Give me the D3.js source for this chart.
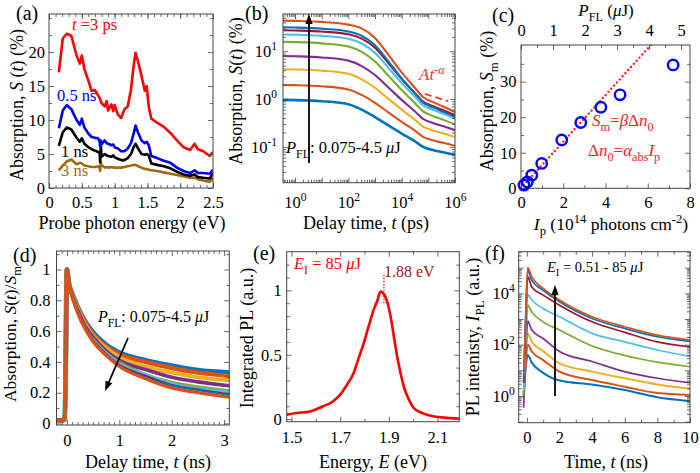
<!DOCTYPE html>
<html><head><meta charset="utf-8">
<script src="https://cdn.jsdelivr.net/npm/d3@7"></script>
<style>body{margin:0;background:#fff}svg{display:block}</style>
</head><body><svg id="c" width="700" height="473"></svg>
<script>
// ---------- DATA ----------
// (a) transient absorption spectra
const aEnergy = [0.15,0.21,0.27,0.34,0.42,0.47,0.5,0.54,0.6,0.65,0.7,0.75,0.77,0.78,0.79,0.8,0.85,0.88,0.9,0.95,0.98,1.0,1.05,1.1,1.15,1.2,1.25,1.29,1.32,1.36,1.41,1.46,1.49,1.52,1.56,1.65,1.75,1.85,1.95,2.05,2.15,2.22,2.27,2.35,2.45,2.5];
const aS3ps  = [17.0,22.0,22.7,22.4,19.5,18.3,19.5,17.5,15.8,14.3,14.4,13.6,13.3,13.0,12.8,12.5,12.0,12.8,11.4,12.3,11.3,12.2,10.8,10.3,11.6,12.0,14.5,18.0,19.9,18.5,16.5,14.3,15.0,12.0,10.2,9.6,9.0,8.1,7.0,6.0,5.6,6.5,5.7,5.4,4.7,5.3];
const aS05ns = [8.8,11.4,12.2,11.6,10.0,9.3,10.2,8.9,8.0,7.5,7.4,7.3,6.9,6.1,7.0,6.4,7.0,6.6,6.5,6.3,6.4,6.0,5.8,5.4,5.4,5.8,6.6,8.0,9.2,8.1,7.0,6.6,6.8,6.3,4.7,4.4,4.0,3.7,3.0,2.5,2.2,2.6,2.2,2.2,2.1,2.7];
const aS1ns  = [6.2,8.2,8.9,8.6,7.4,6.8,7.3,6.5,6.0,5.7,5.5,5.3,5.3,3.8,6.3,4.6,5.0,4.8,4.7,4.6,4.8,4.5,4.3,4.1,4.1,4.4,5.0,6.0,6.5,5.8,5.0,4.9,5.0,4.8,3.6,3.4,3.2,2.9,2.4,2.0,1.8,2.0,1.6,1.5,1.4,2.2];
const aS3ns  = [2.6,3.3,3.9,4.2,3.5,3.7,3.6,3.3,3.2,3.1,3.1,3.2,3.0,2.5,3.8,3.4,3.0,3.1,3.0,3.1,3.0,3.0,3.0,3.0,3.1,3.2,3.3,3.4,3.4,3.2,3.0,2.8,2.8,2.7,2.6,2.5,2.3,2.1,1.9,1.7,1.5,1.5,1.3,1.1,0.9,1.5];

// (b) absorption decay vs delay time (ps), P_FL 0.075-4.5 uJ
const bTime = [0.355,1,10,100,316,1000,3162,10000,31623,63096,158489,398107,1000000];
const bS1 = [0.96,0.95,0.9,0.78,0.6,0.42,0.28,0.19,0.13,0.1,0.085,0.076,0.068];
const bS2 = [1.97,1.95,1.85,1.59,1.22,0.835,0.525,0.334,0.218,0.162,0.136,0.12,0.105];
const bS3 = [4.2,4.15,3.92,3.37,2.58,1.72,1.01,0.60,0.366,0.265,0.218,0.189,0.162];
const bS4 = [7.95,7.84,7.41,6.36,4.89,3.18,1.75,0.96,0.55,0.386,0.312,0.265,0.223];
const bS5 = [15.7,15.5,14.6,12.5,9.67,6.10,3.09,1.55,0.818,0.554,0.437,0.362,0.296];
const bS6 = [22.4,22.1,20.9,18.2,14.5,9.23,4.53,2.16,1.11,0.748,0.587,0.483,0.39];
const bS7 = [27.5,27.1,25.8,22.6,18.3,11.8,5.66,2.63,1.33,0.887,0.697,0.57,0.455];
const bS8 = [31.7,31.3,29.7,25.9,21.1,13.3,6.13,2.70,1.30,0.853,0.66,0.532,0.42];
const bS9 = [43.6,43,41,36,30,19,8.5,3.6,1.7,1.1,0.85,0.68,0.53];
const bPowerLawT = [74000,560000];
const bPowerLawS = [1.28,0.9];

// (c) peak absorption vs photon flux
const cIp = [0.14,0.30,0.51,0.98,1.93,2.83,3.78,4.69,7.2];
const cSm = [0.9,1.8,3.7,7.0,13.6,18.5,22.8,26.3,34.7];
const cFitIp = [0,6.5];
const cFitSm = [0,42.6];

// (d) normalized decay, ns
const dTime = [-0.2,-0.1,-0.04,0,0.03,0.1,0.2,0.35,0.5,0.75,1,1.5,2,2.5,3.1];
const dS1 = [0.02,0.02,0.03,1,0.92,0.84,0.76,0.66,0.59,0.51,0.46,0.41,0.375,0.345,0.33];
const dS2 = [0.02,0.02,0.03,1,0.92,0.84,0.755,0.654,0.58,0.50,0.45,0.40,0.36,0.33,0.31];
const dS3 = [0.02,0.02,0.03,1,0.92,0.83,0.75,0.64,0.57,0.49,0.43,0.37,0.33,0.30,0.28];
const dS4 = [0.02,0.02,0.03,1,0.92,0.83,0.74,0.63,0.56,0.47,0.41,0.35,0.30,0.27,0.245];
const dS5 = [0.02,0.02,0.03,1,0.92,0.83,0.73,0.62,0.55,0.46,0.40,0.32,0.27,0.24,0.215];
const dS6 = [0.02,0.02,0.03,1,0.92,0.82,0.73,0.62,0.54,0.46,0.39,0.32,0.26,0.23,0.205];
const dS7 = [0.02,0.02,0.03,1,0.92,0.82,0.73,0.62,0.54,0.45,0.38,0.31,0.25,0.22,0.19];
const dS8 = [0.02,0.02,0.03,1,0.92,0.82,0.725,0.615,0.535,0.445,0.375,0.30,0.245,0.215,0.185];
const dS9 = [0.02,0.02,0.03,1,0.92,0.82,0.72,0.61,0.53,0.44,0.37,0.29,0.23,0.20,0.17];

// (e) integrated PL spectrum
const eEnergy = [1.48,1.52,1.576,1.63,1.67,1.70,1.728,1.755,1.776,1.797,1.817,1.838,1.852,1.866,1.88,1.893,1.907,1.921,1.934,1.948,1.962,1.983,2.003,2.038,2.086,2.14,2.19];
const ePL = [0.035,0.047,0.06,0.1,0.137,0.19,0.267,0.357,0.474,0.59,0.72,0.85,0.915,0.99,0.97,0.915,0.80,0.64,0.49,0.36,0.25,0.15,0.085,0.047,0.02,0.01,0.005];
const ePeak = 1.88;

// (f) PL decay, E_I 0.51-85 uJ
const fTime = [-0.2,-0.1,0.05,0.3,1,2,4,6,8,10];
const fS1 = [1.26,8,40,20,8,4.0,2.8,1.7,0.89,0.63];
const fS2 = [1.0,10,100,54,25,8.9,4.2,2.3,1.3,1.1];
const fS3 = [0.8,16,275,129,56,18.6,8.9,4.9,2.8,1.9];
const fS4 = [0.35,10,830,372,174,54,22,8.9,4.9,3.3];
const fS5 = [1.0,32,3500,1900,776,372,89,38,21,13.8];
const fS6 = [1.6,63,8900,5500,2570,1230,275,129,62,35];
const fS7 = [3.2,200,45000,17800,8500,3470,776,302,129,83];
const fS8 = [4,316,79000,32000,13200,4700,1050,427,204,135];
const fS9 = [6.3,400,100000,44000,15500,5500,1230,500,234,151];

// ---------- STYLE ----------
const FONT = '"Liberation Serif","Times New Roman",serif';
const TICK_FS = 16.5, TITLE_FS = 18, LET_FS = 20;
const FRAME = "#444";
const ML = ["#0072BD","#D95319","#EDB120","#7E2F8E","#77AC30","#4DBEEE","#A2142F","#0072BD","#D95319"];
const aColors = ["#FF0000","#0000EE","#000000","#A06A14"];

const svg = d3.select("#c");
const defs = svg.append("defs");

function rtext(x, y, parts, o = {}) {
  const size = o.size || TITLE_FS;
  const t = svg.append("text").attr("font-family", FONT).attr("font-size", size)
    .attr("fill", o.fill || "#000").attr("text-anchor", o.anchor || "middle");
  if (o.rotate) t.attr("transform", `translate(${x},${y}) rotate(-90)`);
  else t.attr("x", x).attr("y", y);
  let cur = 0;
  parts.forEach(p => {
    if (typeof p === "string") p = { t: p };
    const small = p.sub || p.sup;
    const shift = p.sub ? size * 0.3 : (p.sup ? -size * 0.38 : 0);
    const ts = t.append("tspan").text(p.t).attr("dy", shift - cur);
    if (small) ts.attr("font-size", size * 0.72);
    if (p.i) ts.attr("font-style", "italic");
    if (p.c) ts.attr("fill", p.c);
    cur = shift;
  });
  return t;
}

function supify(ag) {
  ag.selectAll(".tick text").each(function (d) {
    const t = d3.select(this);
    if (!t.text()) return;
    const e = Math.round(Math.log10(d));
    t.text(null);
    t.append("tspan").text("10");
    t.append("tspan").attr("dy", -TICK_FS * 0.42).attr("font-size", TICK_FS * 0.7).text(e);
  });
}

function logMinors(lo, hi) {
  const out = [];
  for (let e = Math.floor(Math.log10(lo)); e <= Math.ceil(Math.log10(hi)); e++)
    for (let m = 2; m <= 9; m++) { const v = m * Math.pow(10, e); if (v > lo && v < hi) out.push(v); }
  return out;
}
function range(a, b, s) { const o = []; for (let v = a; v <= b + 1e-9; v += s) o.push(+v.toFixed(6)); return o; }

function panel(id, P, xs, ys, o) {
  defs.append("clipPath").attr("id", "clip-" + id).append("rect")
    .attr("x", P.x0).attr("y", P.y0).attr("width", P.x1 - P.x0).attr("height", P.y1 - P.y0);
  const g = svg.append("g");
  const plot = g.append("g").attr("clip-path", `url(#clip-${id})`);
  const ax = g.append("g");
  const side = (gen, pos, vals, len, fmt, pad) => {
    const a = gen.tickValues(vals).tickSizeInner(-len).tickSizeOuter(0).tickPadding(pad || 0)
      .tickFormat(fmt || (() => ""));
    const ag = ax.append("g").attr("transform", pos).call(a);
    ag.select(".domain").remove();
    ag.attr("color", FRAME).attr("font-family", FONT).attr("font-size", TICK_FS);
    ag.selectAll("text").attr("fill", "#000");
    ag.selectAll("line").attr("stroke-width", 0.8);
    return ag;
  };
  const bx = `translate(0,${P.y1})`, tx = `translate(0,${P.y0})`, lx = `translate(${P.x0},0)`, rx = `translate(${P.x1},0)`;
  const bot = side(d3.axisBottom(xs), bx, o.xMajor, 5, o.xFmt, o.xPad);
  side(d3.axisBottom(xs), bx, o.xMinor, 3);
  const topS = o.xTop || xs;
  side(d3.axisTop(topS), tx, o.xTopMajor || o.xMajor, 5, o.xTopFmt, o.xTopPad);
  side(d3.axisTop(topS), tx, o.xTopMinor || o.xMinor, 3);
  const left = side(d3.axisLeft(ys), lx, o.yMajor, 5, o.yFmt, o.yPad);
  side(d3.axisLeft(ys), lx, o.yMinor, 3);
  side(d3.axisRight(ys), rx, o.yMajor, 5);
  side(d3.axisRight(ys), rx, o.yMinor, 3);
  if (o.supX) supify(bot);
  if (o.supY) supify(left);
  ax.append("rect").attr("x", P.x0).attr("y", P.y0).attr("width", P.x1 - P.x0).attr("height", P.y1 - P.y0)
    .attr("fill", "none").attr("stroke", FRAME).attr("stroke-width", 1);
  return { g, plot, ax };
}

function arrow(x1, y1, x2, y2, color = "#000") {
  const ang = Math.atan2(y2 - y1, x2 - x1), L = 10, W = 3.6;
  const bxp = x2 - L * Math.cos(ang), byp = y2 - L * Math.sin(ang);
  svg.append("line").attr("x1", x1).attr("y1", y1).attr("x2", bxp).attr("y2", byp)
    .attr("stroke", color).attr("stroke-width", 1.8);
  const px = -Math.sin(ang) * W, py = Math.cos(ang) * W;
  svg.append("path").attr("d", `M${x2},${y2}L${bxp + px},${byp + py}L${bxp - px},${byp - py}Z`).attr("fill", color);
}

const fmtNum = d => String(d);

// ---------- (a) ----------
{
  const P = { x0: 49, x1: 213, y0: 14, y1: 188 };
  const xs = d3.scaleLinear().domain([0, 2.5]).range([P.x0, P.x1]);
  const ys = d3.scaleLinear().domain([0, 25.6]).range([P.y1, P.y0]);
  const p = panel("a", P, xs, ys, {
    xMajor: [0, 0.5, 1, 1.5, 2, 2.5], xMinor: range(0.1, 2.4, 0.1), xFmt: fmtNum, xPad: 8.5,
    yMajor: [0, 5, 10, 15, 20], yMinor: [2.5, 7.5, 12.5, 17.5, 22.5, 25], yFmt: fmtNum, yPad: 4
  });
  const series = [aS3ns, aS1ns, aS05ns, aS3ps];
  const cols = [aColors[3], aColors[2], aColors[1], aColors[0]];
  const line = d3.line().x((d, i) => xs(aEnergy[i])).y(d => ys(d));
  series.forEach((s, k) => p.plot.append("path").attr("d", line(s)).attr("fill", "none")
    .attr("stroke", cols[k]).attr("stroke-width", 2.6).attr("stroke-linejoin", "round"));
  rtext(72, 30, [{ t: "t", i: true }, " =3 ps"], { size: 16.5, anchor: "start", fill: aColors[0] });
  rtext(57, 101, ["0.5 ns"], { size: 16.5, anchor: "start", fill: aColors[1] });
  rtext(61, 157, ["1 ns"], { size: 16.5, anchor: "start", fill: aColors[2] });
  rtext(61, 176, ["3 ns"], { size: 16.5, anchor: "start", fill: aColors[3] });
  rtext(132, 229, ["Probe photon energy (eV)"]);
  rtext(23, 105, ["Absorption, ", { t: "S", i: true }, " (", { t: "t", i: true }, ") (%)"], { rotate: true });
  rtext(16, 20, ["(a)"], { size: LET_FS, anchor: "start" });
}

// ---------- (b) ----------
{
  const P = { x0: 283, x1: 455, y0: 14, y1: 182.7 };
  const xs = d3.scaleLog().domain([0.355, 1e6]).range([P.x0, P.x1]);
  const ys = d3.scaleLog().domain([0.0178, 60]).range([P.y1, P.y0]);
  const p = panel("b", P, xs, ys, {
    xMajor: [1, 10, 100, 1e3, 1e4, 1e5, 1e6], xMinor: logMinors(0.355, 1e6),
    xFmt: d => ([1, 100, 1e4, 1e6].includes(d) ? "x" : ""), xPad: 13.5, supX: true,
    yMajor: [0.1, 1, 10], yMinor: logMinors(0.0178, 60), yFmt: () => "x", yPad: 6, supY: true
  });
  const series = [bS1, bS2, bS3, bS4, bS5, bS6, bS7, bS8, bS9];
  const line = d3.line().x((d, i) => xs(bTime[i])).y(d => ys(d)).curve(d3.curveMonotoneX);
  series.forEach((s, k) => p.plot.append("path").attr("d", line(s)).attr("fill", "none")
    .attr("stroke", ML[k]).attr("stroke-width", k === 0 ? 2.6 : 2.1));
  const pl = d3.line().x((d, i) => xs(bPowerLawT[i])).y(d => ys(d));
  p.plot.append("path").attr("d", pl(bPowerLawS)).attr("stroke", "#FF3030").attr("stroke-width", 1.8)
    .attr("stroke-dasharray", "7,4").attr("fill", "none");
  rtext(419, 80, [{ t: "At", i: true }, { t: "-α", sup: true, i: true }], { size: 17, anchor: "start", fill: "#FF3030" });
  arrow(309, 163, 309, 14);
  rtext(286, 153, [{ t: "P", i: true }, { t: "FL", sub: true }, ": 0.075-4.5 ", { t: "μ", i: true }, "J"], { size: 16.5, anchor: "start" });
  rtext(366, 229, ["Delay time, ", { t: "t", i: true }, " (ps)"]);
  rtext(242, 91, ["Absorption, ", { t: "S", i: true }, "(", { t: "t", i: true }, ") (%)"], { rotate: true });
  rtext(245, 20, ["(b)"], { size: LET_FS, anchor: "start" });
}

// ---------- (c) ----------
{
  const P = { x0: 521, x1: 690, y0: 45, y1: 188.3 };
  const xs = d3.scaleLinear().domain([0, 8]).range([P.x0, P.x1]);
  const xt = d3.scaleLinear().domain([0, 5.28]).range([P.x0, P.x1]);
  const ys = d3.scaleLinear().domain([0, 40.3]).range([P.y1, P.y0]);
  const p = panel("c", P, xs, ys, {
    xMajor: [0, 2, 4, 6, 8], xMinor: [1, 3, 5, 7], xFmt: fmtNum, xPad: 8,
    xTop: xt, xTopMajor: [0, 1, 2, 3, 4, 5], xTopMinor: [0.5, 1.5, 2.5, 3.5, 4.5], xTopFmt: fmtNum, xTopPad: 9,
    yMajor: [0, 10, 20, 30], yMinor: [5, 15, 25, 35], yFmt: fmtNum, yPad: 4.5
  });
  const fit = d3.line().x((d, i) => xs(cFitIp[i])).y(d => ys(d));
  p.plot.append("path").attr("d", fit(cFitSm)).attr("stroke", "#FF1A1A").attr("stroke-width", 2.4)
    .attr("stroke-dasharray", "0,4.2").attr("stroke-linecap", "round").attr("fill", "none");
  p.g.selectAll("circle.pt").data(cSm).join("circle").attr("class", "pt")
    .attr("cx", (d, i) => xs(cIp[i])).attr("cy", d => ys(d)).attr("r", 5.2)
    .attr("fill", "none").attr("stroke", "#0000FF").attr("stroke-width", 2.4);
  const red = "#FF2020";
  rtext(592, 126, [{ t: "S", i: true }, { t: "m", sub: true }, "=", { t: "β", i: true }, "Δ", { t: "n", i: true }, { t: "0", sub: true }], { size: 17, anchor: "start", fill: red });
  rtext(588, 156, ["Δ", { t: "n", i: true }, { t: "0", sub: true }, "=", { t: "α", i: true }, { t: "abs", sub: true }, { t: "I", i: true }, { t: "p", sub: true }], { size: 17, anchor: "start", fill: red });
  rtext(606, 16, [{ t: "P", i: true }, { t: "FL", sub: true }, " (", { t: "μ", i: true }, "J)"], { size: 17 });
  rtext(611, 230, [{ t: "I", i: true }, { t: "p", sub: true }, " (10", { t: "14", sup: true }, " photons cm", { t: "-2", sup: true }, ")"], { size: 17.5 });
  rtext(493, 101, ["Absorption, ", { t: "S", i: true }, { t: "m", sub: true }, " (%)"], { rotate: true });
  rtext(492, 22, ["(c)"], { size: LET_FS, anchor: "start" });
}

// ---------- (d) ----------
{
  const P = { x0: 56.5, x1: 229.3, y0: 251, y1: 425 };
  const xs = d3.scaleLinear().domain([-0.2, 3.1]).range([P.x0, P.x1]);
  const ys = d3.scaleLinear().domain([-0.01, 1.12]).range([P.y1, P.y0]);
  const p = panel("d", P, xs, ys, {
    xMajor: [0, 1, 2, 3], xMinor: [-0.1, 0.1, 0.2, 0.3, 0.4, 0.5, 0.6, 0.7, 0.8, 0.9, 1.1, 1.2, 1.3, 1.4, 1.5, 1.6, 1.7, 1.8, 1.9, 2.1, 2.2, 2.3, 2.4, 2.5, 2.6, 2.7, 2.8, 2.9], xFmt: fmtNum, xPad: 9.3,
    yMajor: [0, 0.2, 0.4, 0.6, 0.8, 1], yMinor: [0.1, 0.3, 0.5, 0.7, 0.9, 1.1], yFmt: fmtNum, yPad: 6
  });
  const series = [dS1, dS2, dS3, dS4, dS5, dS6, dS7, dS8, dS9];
  const widths = [5, 4.5, 4, 3.6, 2.4, 2.2, 2, 2, 3.2];
  const line = d3.line().x((d, i) => xs(dTime[i])).y(d => ys(d)).curve(d3.curveMonotoneX);
  series.forEach((s, k) => p.plot.append("path").attr("d", line(s)).attr("fill", "none")
    .attr("stroke", ML[k]).attr("stroke-width", widths[k]).attr("stroke-linejoin", "round"));
  arrow(128, 338, 105, 391);
  rtext(98, 322, [{ t: "P", i: true }, { t: "FL", sub: true }, ": 0.075-4.5 ", { t: "μ", i: true }, "J"], { size: 16, anchor: "start" });
  rtext(148, 468, ["Delay time, ", { t: "t", i: true }, " (ns)"]);
  rtext(16, 334, ["Absorption, ", { t: "S", i: true }, "(", { t: "t", i: true }, ")/", { t: "S", i: true }, { t: "m", sub: true }], { rotate: true, size: 17.5 });
  rtext(13, 262, ["(d)"], { size: LET_FS, anchor: "start" });
}

// ---------- (e) ----------
{
  const P = { x0: 286.7, x1: 459.3, y0: 251.7, y1: 421.7 };
  const xs = d3.scaleLinear().domain([1.48, 2.19]).range([P.x0, P.x1]);
  const ys = d3.scaleLinear().domain([-0.02, 1.3]).range([P.y1, P.y0]);
  const p = panel("e", P, xs, ys, {
    xMajor: [1.5, 1.7, 1.9, 2.1], xMinor: [1.6, 1.8, 2.0], xFmt: d3.format(".1f"), xPad: 10,
    yMajor: [0, 0.5, 1], yMinor: [0.1, 0.2, 0.3, 0.4, 0.6, 0.7, 0.8, 0.9, 1.1, 1.2], yFmt: fmtNum, yPad: 5
  });
  const line = d3.line().x((d, i) => xs(eEnergy[i])).y(d => ys(d)).curve(d3.curveMonotoneX);
  p.plot.append("path").attr("d", line(ePL)).attr("fill", "none").attr("stroke", "#FF0000").attr("stroke-width", 2.6);
  p.plot.append("line").attr("x1", xs(ePeak)).attr("x2", xs(ePeak)).attr("y1", ys(0.9)).attr("y2", ys(1.12))
    .attr("stroke", "#B0122A").attr("stroke-width", 1.2).attr("stroke-dasharray", "1.5,1.5");
  rtext(294, 269, [{ t: "E", i: true }, { t: "I", sub: true }, " = 85 ", { t: "μ", i: true }, "J"], { size: 16.5, anchor: "start", fill: "#FF0000" });
  rtext(384, 277, ["1.88 eV"], { size: 16, anchor: "start", fill: "#A0142A" });
  rtext(373, 468, ["Energy, ", { t: "E", i: true }, " (eV)"]);
  rtext(253, 338, ["Integrated PL (a.u.)"], { rotate: true });
  rtext(253, 260, ["(e)"], { size: LET_FS, anchor: "start" });
}

// ---------- (f) ----------
{
  const P = { x0: 518.7, x1: 690, y0: 251.7, y1: 422.7 };
  const xs = d3.scaleLinear().domain([-0.5, 10]).range([P.x0, P.x1]);
  const ys = d3.scaleLog().domain([0.091, 4.2e5]).range([P.y1, P.y0]);
  const p = panel("f", P, xs, ys, {
    xMajor: [0, 2, 4, 6, 8, 10], xMinor: [1, 3, 5, 7, 9], xFmt: fmtNum, xPad: 9,
    yMajor: [0.1, 1, 10, 100, 1e3, 1e4, 1e5], yMinor: logMinors(0.091, 4.2e5),
    yFmt: d => ([1, 100, 1e4].includes(d) ? "x" : ""), yPad: 4, supY: true
  });
  const series = [fS1, fS2, fS3, fS4, fS5, fS6, fS7, fS8, fS9];
  const line = d3.line().x((d, i) => xs(fTime[i])).y(d => ys(d)).curve(d3.curveMonotoneX);
  series.forEach((s, k) => p.plot.append("path").attr("d", line(s)).attr("fill", "none")
    .attr("stroke", ML[k]).attr("stroke-width", k < 3 ? 2 : 1.7));
  arrow(555, 396, 555, 285);
  rtext(547, 272, [{ t: "E", i: true }, { t: "I", sub: true }, " = 0.51 - 85 ", { t: "μ", i: true }, "J"], { size: 14.5, anchor: "start" });
  rtext(606, 468, ["Time, ", { t: "t", i: true }, " (ns)"]);
  rtext(479, 337, ["PL intenisty, ", { t: "I", i: true }, { t: "PL", sub: true }, " (a.u.)"], { rotate: true });
  rtext(485, 260, ["(f)"], { size: LET_FS, anchor: "start" });
}
</script>
</body></html>
